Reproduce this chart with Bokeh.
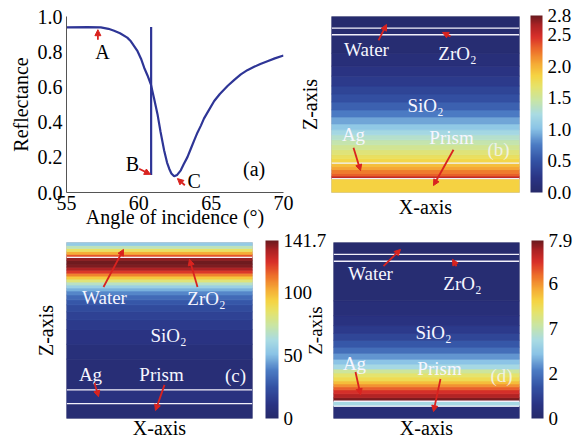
import numpy as np
from bokeh.plotting import figure
from bokeh.layouts import column, row
from bokeh.models import (Range1d, ColorBar, LinearColorMapper, FixedTicker, Label,
                          Arrow, NormalHead, ColumnDataSource, PrintfTickFormatter)
from bokeh.embed import file_html
from bokeh.resources import INLINE

FONT = "Liberation Serif"

# ---------------- data: panel (a) reflectance curve ----------------
angle = [55.0, 56.45, 57.37, 57.9, 58.29, 58.7, 59.2, 59.45, 59.91, 60.15, 60.37, 60.6, 60.83,
         61.05, 61.29, 61.5, 61.75, 61.95, 62.10, 62.25, 62.44, 62.65, 62.90, 63.1, 63.36,
         63.6, 63.82, 64.05, 64.29, 64.5, 64.75, 65.21, 65.6, 66.13, 66.6, 67.05, 67.5,
         67.97, 68.4, 68.89, 69.4, 70.0]
refl = [0.938, 0.94, 0.938, 0.93, 0.919, 0.905, 0.88, 0.859, 0.803, 0.76, 0.709, 0.665, 0.615,
        0.535, 0.445, 0.345, 0.239, 0.17, 0.135, 0.108, 0.092, 0.10, 0.126, 0.16, 0.201,
        0.25, 0.295, 0.34, 0.38, 0.42, 0.455, 0.52, 0.56, 0.605, 0.64, 0.671, 0.695,
        0.714, 0.73, 0.746, 0.762, 0.778]
sharp_angle = [60.85, 60.85]
sharp_refl = [0.10, 0.94]
a_xticks = [55, 60, 65, 70]
a_yticks = [0.0, 0.2, 0.4, 0.6, 0.8, 1.0]

# ---------------- data: field profiles (z from bottom of each map) ----------------
b_edges = [0, 14, 16.5, 19, 23, 26, 29, 34, 38, 43, 48, 53, 58, 63, 69, 76, 83, 91, 99, 107,
           117, 127, 140, 159, 165, 177]
b_vals = [1.85, 2.55, 2.3, 2.2, 2.05, 1.95, 1.82, 1.72, 1.62, 1.53, 1.43, 1.32, 1.2, 1.06, 0.9,
          0.75, 0.6, 0.48, 0.38, 0.28, 0.2, 0.13, 0.07, 0.05, 0.03]
b_lines = [14, 29.5, 158.7, 165.3]
b_ticks = [0.0, 0.5, 1.0, 1.5, 2.0, 2.5, 2.8]
b_max = 2.8

c_edges = [0, 15, 29, 60, 75, 90, 100, 108, 115, 120, 125, 129, 132, 135, 138, 141, 144, 147,
           150, 153, 156, 160, 163, 166, 169, 172, 175, 178]
c_vals = [4, 9, 5, 7, 10, 14, 18, 22, 27, 33, 40, 48, 57, 68, 82, 96, 110, 123, 133, 139, 141,
          137, 118, 102, 86, 70, 55]
c_lines = [15, 29, 163]
c_ticks = [0, 50, 100, 141.7]
c_max = 141.7

d_edges = [0, 12.5, 17.5, 21, 25, 29, 32, 35, 38, 42, 46, 50, 55, 60, 66, 72, 79, 86, 94, 104,
           119, 159, 166, 178]
d_vals = [0.3, 3.4, 7.8, 7.4, 7.0, 6.5, 6.0, 5.5, 5.0, 4.7, 4.2, 3.4, 2.9, 2.4, 1.9, 1.5, 1.1,
          0.8, 0.55, 0.35, 0.2, 0.15, 0.12]
d_lines = [12.5, 17.5, 159, 166]
d_ticks = [0, 2, 4, 6, 7.9]
d_tick_labels = {0: "0", 2: "2", 4: "7", 6: "6", 7.9: "7.9"}
d_max = 7.9

# ---------------- colour palette ----------------
anchor_pos = [0.0, 0.08, 0.18, 0.27, 0.36, 0.44, 0.52, 0.60, 0.66, 0.73, 0.80, 0.88, 0.95, 1.0]
anchor_col = ["#262a6a", "#2a3485", "#3453a5", "#4c7cc4", "#8ac3e6", "#a9dbe3", "#c8e5a6",
              "#e6e36a", "#f5d443", "#f5a935", "#ee722b", "#d9302a", "#a92124", "#6a1b1f"]


def _rgb(h):
    return [int(h[i:i + 2], 16) for i in (1, 3, 5)]


_cols = np.array([_rgb(c) for c in anchor_col], dtype=float)
_t = np.linspace(0, 1, 256)
PAL = ["#%02x%02x%02x" % tuple(int(round(np.interp(t, anchor_pos, _cols[:, k]))) for k in range(3))
       for t in _t]

RED = "#d9231f"
WHITE = "#f6f6ff"


def arrow(p, x0, y0, x1, y1, w=1.8):
    p.add_layout(Arrow(end=NormalHead(size=6, fill_color=RED, line_color=RED, line_width=1),
                       x_start=x0, y_start=y0, x_end=x1, y_end=y1,
                       line_color=RED, line_width=w))


def label(p, x, y, text, size="19px", color="black", alpha=1.0):
    p.add_layout(Label(x=x, y=y, text=text, text_font=FONT, text_font_size=size,
                       text_color=color, text_align="center", text_baseline="middle",
                       text_alpha=alpha))


# ---------------- panel (a) ----------------
fa = figure(width=300, height=236, x_range=Range1d(55, 70), y_range=Range1d(0, 1.0),
            output_backend="svg", toolbar_location=None,
            min_border_left=66, min_border_right=17, min_border_top=15, min_border_bottom=44)
fa.line(angle, refl, line_color="#2e3596", line_width=2.2)
fa.line(sharp_angle, sharp_refl, line_color="#2e3596", line_width=2.2)
fa.xaxis.ticker = FixedTicker(ticks=a_xticks)
fa.yaxis.ticker = FixedTicker(ticks=a_yticks)
fa.yaxis.formatter = PrintfTickFormatter(format="%.1f")
for ax in (fa.xaxis[0], fa.yaxis[0]):
    ax.major_label_text_font = FONT
    ax.major_label_text_font_size = "20px"
    ax.major_label_text_color = "black"
    ax.axis_label_text_font = FONT
    ax.axis_label_text_font_size = "20px"
    ax.axis_label_text_font_style = "normal"
    ax.axis_label_text_color = "black"
    ax.major_tick_line_color = None
    ax.minor_tick_line_color = None
    ax.major_tick_out = 0
    ax.major_tick_in = 0
    ax.axis_line_color = "#555555"
fa.xaxis.axis_label = "Angle of incidence (°)"
fa.yaxis.axis_label = "Reflectance"
fa.xaxis.major_label_standoff = 3
fa.xaxis.axis_label_standoff = -7
fa.yaxis.major_label_standoff = 4
fa.yaxis.axis_label_standoff = 3
fa.grid.visible = False
fa.outline_line_color = None

label(fa, 57.49, 0.80, "A", size="20px")
arrow(fa, 57.17, 0.868, 57.17, 0.925)
label(fa, 59.56, 0.164, "B", size="20px")
arrow(fa, 60.02, 0.135, 60.8, 0.103)
label(fa, 63.82, 0.064, "C", size="20px")
arrow(fa, 63.18, 0.041, 62.67, 0.079)
label(fa, 67.97, 0.135, "(a)", size="20px")


# ---------------- heat-map panels ----------------
def heat_panel(width, height, W, H, b_left, b_right, b_top, b_bottom, edges, vals, lines,
               vmax, ticks, cb_x, cb_w, x_standoff, z_standoff, margin, z_size="20px",
               overrides=None, fmt="%g"):
    p = figure(width=width, height=height, x_range=Range1d(0, W), y_range=Range1d(0, H),
               output_backend="svg", toolbar_location=None, margin=margin,
               min_border_left=b_left, min_border_right=b_right, min_border_top=b_top,
               min_border_bottom=b_bottom)
    p.border_fill_color = None
    p.grid.visible = False
    p.outline_line_color = "#c8c8d0"
    for ax, txt, so, fs in ((p.xaxis[0], "X-axis", x_standoff, "20px"),
                            (p.yaxis[0], "Z-axis", z_standoff, z_size)):
        ax.ticker = FixedTicker(ticks=[])
        ax.axis_line_color = None
        ax.major_tick_line_color = None
        ax.minor_tick_line_color = None
        ax.major_tick_out = 0
        ax.major_tick_in = 0
        ax.major_label_standoff = 0
        ax.axis_label = txt
        ax.axis_label_standoff = so
        ax.axis_label_text_font = FONT
        ax.axis_label_text_font_size = fs
        ax.axis_label_text_font_style = "normal"
        ax.axis_label_text_color = "black"
    mapper = LinearColorMapper(palette=PAL, low=0, high=vmax)
    src = ColumnDataSource(dict(bottom=edges[:-1], top=edges[1:], val=vals))
    tr = {"field": "val", "transform": mapper}
    p.quad(left=0, right=W, bottom="bottom", top="top", source=src,
           fill_color=tr, line_color=tr, line_width=0.8)
    lsrc = ColumnDataSource(dict(z=lines))
    p.segment(x0=0, x1=W, y0="z", y1="z", source=lsrc, line_color="#f2f0fa", line_width=1.4)
    cb = ColorBar(color_mapper=mapper, location=(cb_x, 0), width=cb_w, height=H,
                  padding=0, margin=0, ticker=FixedTicker(ticks=ticks),
                  formatter=PrintfTickFormatter(format=fmt),
                  major_label_text_font=FONT, major_label_text_font_size="19px",
                  major_label_text_color="black", label_standoff=5,
                  major_tick_line_color=None, minor_tick_line_color=None,
                  bar_line_color=None, border_line_color=None, background_fill_alpha=0)
    if overrides:
        cb.major_label_overrides = overrides
    p.add_layout(cb)
    return p


# fb canvas starts at x=290 (overlaps the empty right border of fa)
fb = heat_panel(290, 236, 188, 177, 41, 61, 16, 43, b_edges, b_vals, b_lines, b_max, b_ticks,
                199, 12, x_standoff=3, z_standoff=11, margin=(0, 0, 0, -10), fmt="%.1f")
label(fb, 35, 144, "Water", color=WHITE)
arrow(fb, 47, 153, 55, 169)
label(fb, 126, 140, "ZrO₂", color=WHITE)
arrow(fb, 119, 157, 111, 161)
label(fb, 94, 87, "SiO₂", color=WHITE)
label(fb, 22, 58, "Ag", color=WHITE)
arrow(fb, 22, 45, 29, 22)
label(fb, 120, 55, "Prism", color=WHITE)
arrow(fb, 122, 43, 102, 7)
label(fb, 167, 43, "(b)", color=WHITE, alpha=0.8)

# bottom row starts at y=226 (overlapping the empty bottom border of row 1)
fc = heat_panel(330, 215, 186, 178, 66, 78, 16, 21, c_edges, c_vals, c_lines, c_max, c_ticks,
                199, 13, x_standoff=-2, z_standoff=10, margin=(-10, 0, 0, 0))
label(fc, 38, 122, "Water", color=WHITE)
arrow(fc, 37, 133, 57, 171)
label(fc, 140, 121, "ZrO₂", color=WHITE)
arrow(fc, 131, 133, 123, 161)
label(fc, 102, 84, "SiO₂", color=WHITE)
label(fc, 24, 45, "Ag", color=WHITE)
arrow(fc, 28, 36, 32, 22)
label(fc, 95, 45, "Prism", color=WHITE)
arrow(fc, 98, 34, 89, 8)
label(fc, 169, 43, "(c)", color=WHITE)

# fd canvas starts at x=296 (overlapping the right border of fc)
fd = heat_panel(284, 215, 186, 178, 37, 61, 15, 22, d_edges, d_vals, d_lines, d_max, d_ticks,
                198, 12, x_standoff=-2, z_standoff=8, margin=(-10, 0, 0, -34), z_size="19px",
                overrides=d_tick_labels)
label(fd, 37, 147, "Water", color=WHITE)
arrow(fd, 50, 154, 67, 171)
label(fd, 129, 137, "ZrO₂", color=WHITE)
arrow(fd, 123, 154, 119, 161)
label(fd, 100, 87, "SiO₂", color=WHITE)
label(fd, 21, 56, "Ag", color=WHITE)
arrow(fd, 22, 47, 27, 24)
label(fd, 106, 51, "Prism", color=WHITE)
arrow(fd, 107, 40, 100, 7)
label(fd, 168, 43, "(d)", color=WHITE, alpha=0.8)

layout = column(row(fa, fb), row(fc, fd))
open("out.html", "w").write(file_html(layout, INLINE))
